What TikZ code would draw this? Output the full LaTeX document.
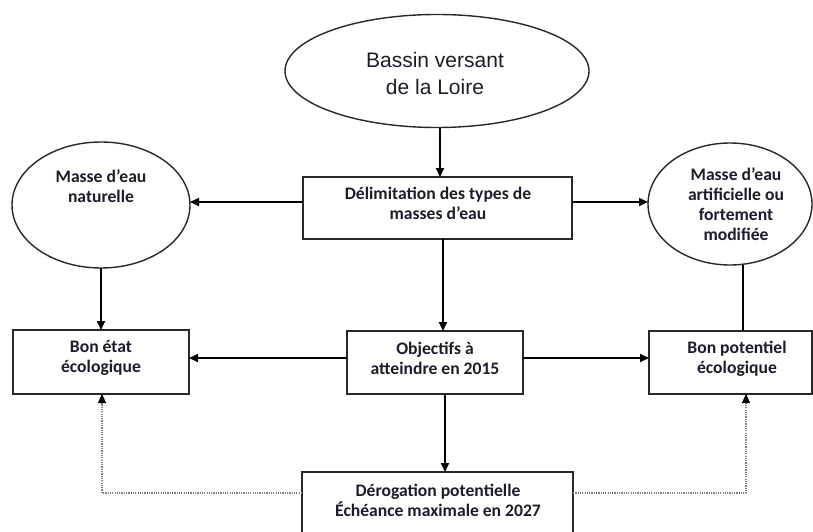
\documentclass[tikz,border=0pt]{standalone}
\usepackage{fontspec}
\setmainfont{Liberation Sans}
\newfontfamily\calb{Carlito}
\usetikzlibrary{arrows.meta,shapes.geometric}
\definecolor{txt}{RGB}{28,28,45}
\definecolor{edge}{RGB}{40,40,40}
\begin{document}
\begin{tikzpicture}[x=1pt,y=-1pt,
  ell/.style={ellipse,draw=edge,line width=1.4pt,inner sep=0pt,outer sep=0pt},
  boxs/.style={rectangle,draw=edge,line width=1.6pt,inner sep=0pt,outer sep=0pt},
  lab/.style={align=center,inner sep=0pt,text=txt,font=\calb\bfseries\fontsize{17.6}{20}\selectfont},
  toplab/.style={align=center,inner sep=0pt,text=txt,font=\fontsize{21}{27}\selectfont},
  arr/.style={draw=black,line width=1.8pt,-{Triangle[length=9pt,width=8pt]}},
  plain/.style={draw=black,line width=1.8pt},
  dotl/.style={draw=black!50,line width=1.3pt,dash pattern=on 1.2pt off 1.1pt,-{Triangle[length=9pt,width=8pt,color=black,line width=0.5pt]}}
]
\useasboundingbox (0,0) rectangle (813,532);
\clip (0,0) rectangle (813,532);
\fill[white] (0,0) rectangle (813,532);

% shapes
\node[ell,minimum width=304pt,minimum height=113pt] (E0) at (437,71) {};
\node[boxs,minimum width=269pt,minimum height=62pt] (D) at (437.5,208) {};
\node[ell,minimum width=178pt,minimum height=126pt] (L) at (101,205) {};
\node[ell,minimum width=164pt,minimum height=122pt] (R) at (730,204) {};
\node[boxs,minimum width=176pt,minimum height=64pt] (BE) at (101,362) {};
\node[boxs,minimum width=176pt,minimum height=63pt] (O) at (435,362.5) {};
\node[boxs,minimum width=163pt,minimum height=63pt] (BP) at (730.5,362.5) {};
\node[boxs,minimum width=271pt,minimum height=76pt] (DR) at (437.5,510) {};

% texts
\node[toplab] (t0) at (435,73.5) {Bassin versant\\de la Loire};
\node[lab] (tD) at (438,203) {Délimitation des types de\\masses d’eau};
\node[lab] (tL) at (101,186) {Masse d’eau\\naturelle};
\node[lab] (tR) at (736,204.5) {Masse d’eau\\artificielle ou\\fortement\\modifiée};
\node[lab] (tBE) at (101,357.5) {Bon état\\écologique};
\node[lab] (tO) at (435,358.5) {Objectifs à\\atteindre en 2015};
\node[lab] (tBP) at (737,358.5) {Bon potentiel\\écologique};
\node[lab] (tDR) at (438,500) {Dérogation potentielle\\Échéance maximale en 2027};

% helper coordinates
\coordinate (yA) at (0,202);
\coordinate (yB) at (0,358);
\coordinate (yC) at (0,493);
\coordinate (xA) at (440,0);
\coordinate (xB) at (443,0);
\coordinate (xC) at (445,0);
\coordinate (xD) at (743,0);
\coordinate (xE) at (102,0);
\coordinate (xF) at (746,0);

% connectors
\draw[arr] (xA |- E0.south) -- (xA |- D.north);
\draw[arr] (D.west |- yA) -- (L.east |- yA);
\draw[arr] (D.east |- yA) -- (R.west |- yA);
\draw[arr] (L.south) -- (L.south |- BE.north);
\draw[arr] (xB |- D.south) -- (xB |- O.north);
\draw[plain] (xD |- R.south) -- (xD |- BP.north);
\draw[arr] (O.west |- yB) -- (BE.east |- yB);
\draw[arr] (O.east |- yB) -- (BP.west |- yB);
\draw[arr] (xC |- O.south) -- (xC |- DR.north);
\draw[dotl] (DR.west |- yC) -- (xE |- yC) -- (xE |- BE.south);
\draw[dotl] (DR.east |- yC) -- (xF |- yC) -- (xF |- BP.south);
\end{tikzpicture}
\end{document}
